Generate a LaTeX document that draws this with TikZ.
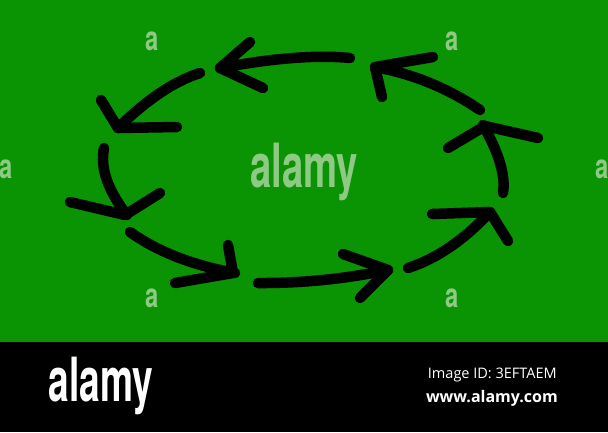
\documentclass[tikz,border=0pt]{standalone}
\usepackage{fontspec}
\usepackage{graphicx}
\setmainfont{Open Sans}
\newfontfamily\logofont{TeX Gyre Heros}
\definecolor{bggreen}{RGB}{10,147,3}
\definecolor{wmark}{RGB}{142,202,132}
\begin{document}
\begin{tikzpicture}[x=1pt,y=-1pt,
  brush/.style={line width=10.5pt,line cap=round,line join=round,black},
  wm/.style={text=wmark,inner sep=0pt},
  bigwm/.style={wm,font=\logofont\fontsize{58}{58}\selectfont\bfseries},
  smallwm/.style={wm,font=\logofont\fontsize{34}{34}\selectfont\bfseries}]
\useasboundingbox (0,0) rectangle (608,432);
\fill[bggreen] (0,0) rectangle (608,342);
\fill[black] (0,342) rectangle (608,432);
% watermarks
\node[bigwm] (wmc) at (304,172) {\scalebox{0.66}[1.05]{alamy}};
\node[smallwm] (wa1) at (152,41) {\scalebox{0.7}[1]{a}};
\node[smallwm] (wa2) at (452,41) {\scalebox{0.7}[1]{a}};
\node[smallwm] (wa3) at (152,298) {\scalebox{0.7}[1]{a}};
\node[smallwm] (wa4) at (452,298) {\scalebox{0.7}[1]{a}};
\node[smallwm] (wa5) at (6,169) {\scalebox{0.7}[1]{a}};
\node[smallwm] (wa6) at (602,169) {\scalebox{0.7}[1]{a}};
% arrows
\draw[brush] (350,58) .. controls (317.3,54.7) and (274,58) .. (220,68);
\draw[brush] (250,42) -- (220,68) -- (263,88);
\draw[brush] (200,73) .. controls (174,81.3) and (146.7,99.7) .. (118,128);
\draw[brush] (101,100) -- (118,128) -- (177,127);
\draw[brush] (104,148) .. controls (100,168) and (107.7,190.3) .. (127,215);
\draw[brush] (70,202) -- (125,215) -- (160,193);
\draw[brush] (130,232) .. controls (157.7,251.7) and (192.7,265.3) .. (235,273);
\draw[brush] (228,245) -- (233,273) -- (175,283);
\draw[brush] (258,283) .. controls (301.3,283.3) and (344.7,279) .. (388,270);
\draw[brush] (343,254) -- (388,270) -- (360,298);
\draw[brush] (408,268) .. controls (436.7,258.7) and (464,240) .. (490,212);
\draw[brush] (432,214) -- (490,212) -- (508,241);
\draw[brush] (503,193) .. controls (505.7,175.7) and (499,153) .. (483,125);
\draw[brush] (448,148) -- (485,126) -- (538,138);
\draw[brush] (480,110) .. controls (448.3,88.3) and (413.3,74) .. (375,67);
\draw[brush] (433,57) -- (375,67) -- (382,97);
% footer
\node[text=white,inner sep=0pt,font=\logofont\fontsize{58}{58}\selectfont\bfseries] (logo) at (101,386) {\scalebox{0.64}[1.05]{alamy}};
\node[text=white,inner sep=0pt,font=\fontsize{14.5}{15}\selectfont,anchor=east] (imgid) at (557,375) {Image ID: 3EFTAEM};
\node[text=white,inner sep=0pt,font=\fontsize{16}{17}\selectfont\bfseries,anchor=east] (url) at (558,398) {www.alamy.com};
\end{tikzpicture}
\end{document}
